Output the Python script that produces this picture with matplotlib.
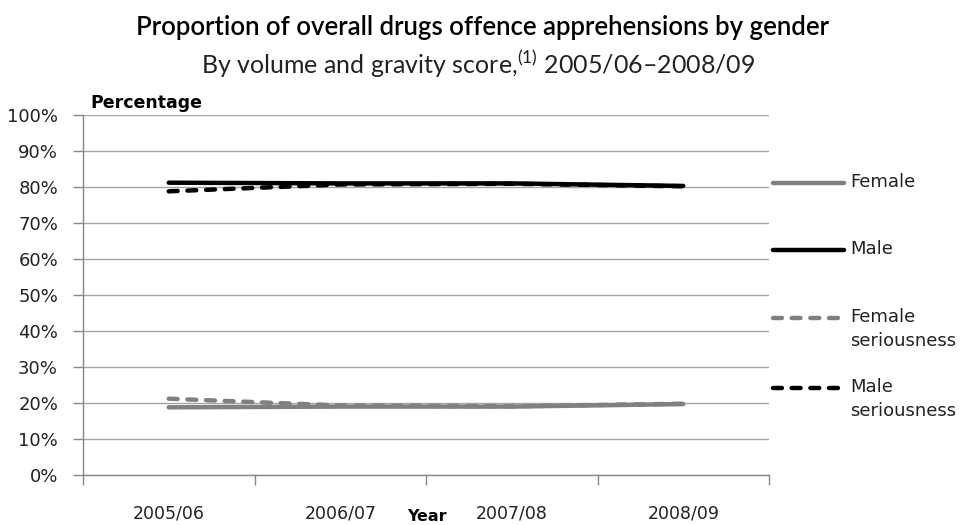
import numpy as np
import matplotlib; matplotlib.use("Agg")
import matplotlib.pyplot as plt
from matplotlib.lines import Line2D
from matplotlib.ticker import FixedLocator, NullFormatter, FixedFormatter

years = ["2005/06", "2006/07", "2007/08", "2008/09"]
female = [18.8, 19.0, 19.0, 19.7]
male = [81.2, 81.0, 81.0, 80.3]
female_ser = [21.2, 19.3, 19.1, 19.8]
male_ser = [78.8, 80.7, 80.9, 80.2]
series_names = ["Female", "Male", "Female\nseriousness", "Male\nseriousness"]

W, H = 966, 525
GREY, BLACK = "#808080", "#000000"
LW = 3.2
DASH = (2.0, 2.2)

plt.rcParams["font.family"] = ["DejaVu Sans"]
plt.rcParams["mathtext.fontset"] = "custom"
plt.rcParams["mathtext.rm"] = "Lato"

fig = plt.figure(figsize=(W / 100, H / 100), dpi=100)
ax = fig.add_axes([83 / W, (H - 475) / H, (769 - 83) / W, (475 - 115) / H])

x = np.arange(len(years))
styles = [
    (female, GREY, "-"),
    (male, BLACK, "-"),
    (female_ser, GREY, "--"),
    (male_ser, BLACK, "--"),
]
for vals, col, ls in styles:
    ln, = ax.plot(x, vals, color=col, lw=LW, ls=ls, solid_capstyle="round",
                  dash_capstyle="round", zorder=3)
    if ls == "--":
        ln.set_dashes(DASH)

ax.set_xlim(-0.5, len(years) - 0.5)
ax.set_ylim(0, 100)
ax.set_yticks(np.arange(0, 101, 10))
ax.set_yticklabels([f"{v}%" for v in range(0, 101, 10)])
ax.xaxis.set_major_locator(FixedLocator(np.arange(-0.5, len(years), 1.0)))
ax.xaxis.set_major_formatter(NullFormatter())
ax.xaxis.set_minor_locator(FixedLocator(x))
ax.xaxis.set_minor_formatter(FixedFormatter(years))
ax.tick_params(axis="x", which="major", length=7, width=1, color="#888888", direction="out")
ax.tick_params(axis="x", which="minor", length=0, pad=21, labelsize=12.5, labelcolor="#222222")
ax.tick_params(axis="y", length=7, width=1, color="#888888", pad=11, labelsize=13,
               labelcolor="#222222")
ax.grid(axis="y", color="#a6a6a6", lw=1.0)
ax.set_axisbelow(True)
for s in ("top", "right"):
    ax.spines[s].set_visible(False)
for s in ("left", "bottom"):
    ax.spines[s].set_color("#888888")
    ax.spines[s].set_linewidth(1.0)

# titles
fig.text(483 / W, 1 - 35 / H, "Proportion of overall drugs offence apprehensions by gender",
         ha="center", va="baseline", fontsize=18.5, family="Lato", fontweight="semibold",
         color="#000000")
fig.text(478 / W, 1 - 74 / H, r"By volume and gravity score,$^{(1)}$ 2005/06–2008/09",
         ha="center", va="baseline", fontsize=18, family="Lato", fontweight="normal",
         color="#222222")
fig.text(90 / W, 1 - 108 / H, "Percentage", ha="left", va="baseline",
         fontsize=12.5, fontweight="bold")
fig.text(427 / W, 1 - 521 / H, "Year", ha="center", va="baseline",
         fontsize=11.5, fontweight="bold")

# legend drawn at right
leg_y = [183, 250, 318, 388]
for (vals, col, ls), name, yy in zip(styles, series_names, leg_y):
    yf = 1 - yy / H
    ln = Line2D([773 / W, 844 / W], [yf, yf], transform=fig.transFigure, color=col,
                lw=LW, ls=ls, solid_capstyle="round", dash_capstyle="round")
    if ls == "--":
        ln.set_dashes(DASH)
    fig.add_artist(ln)
    fig.text(850 / W, 1 - (yy - 10) / H, name, ha="left", va="top", fontsize=13,
             linespacing=1.4, color="#222222")

fig.savefig("out.png", dpi=100)
